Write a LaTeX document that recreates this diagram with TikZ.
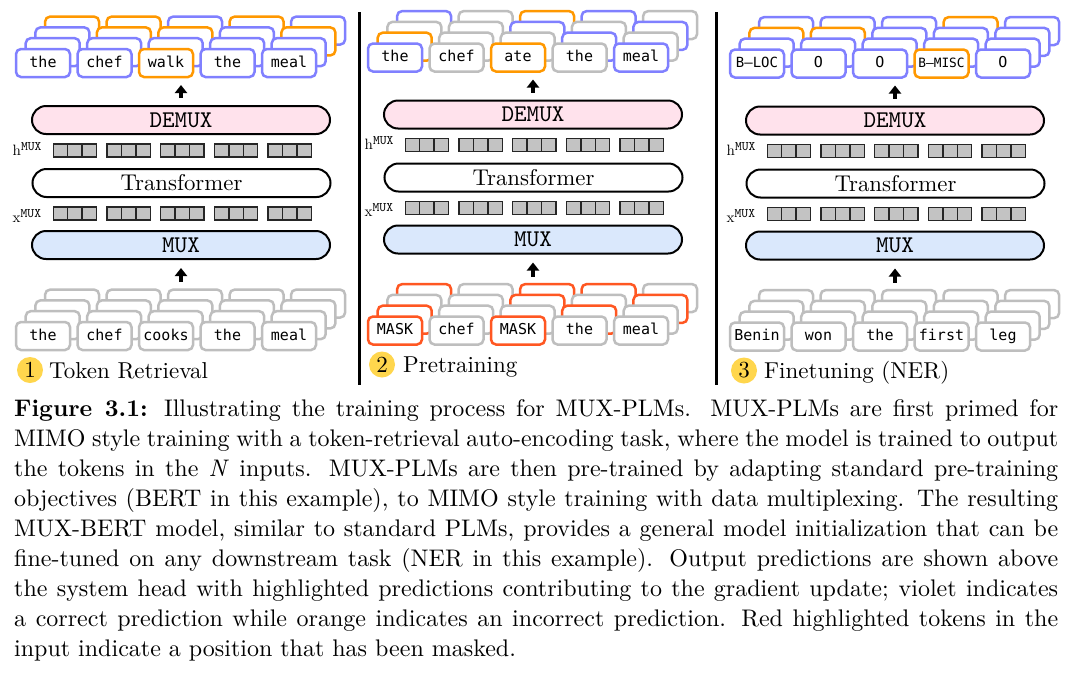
\documentclass[tikz,border=0pt]{standalone}
\usepackage{fontspec}
\setmainfont{lmroman10-regular}[Extension=.otf, BoldFont=lmroman10-bold, ItalicFont=lmroman10-italic, BoldItalicFont=lmroman10-bolditalic]
\setmonofont{lmmono10-regular}[Extension=.otf]
\newfontfamily\tokfont{DejaVu Sans Mono}
\usetikzlibrary{arrows.meta}
\definecolor{tokviolet}{RGB}{128,128,255}
\definecolor{tokorange}{RGB}{255,152,0}
\definecolor{tokgray}{RGB}{190,190,190}
\definecolor{tokred}{RGB}{255,87,34}
\definecolor{demuxpink}{RGB}{255,226,236}
\definecolor{muxblue}{RGB}{218,232,252}
\definecolor{blockgray}{RGB}{195,195,195}
\definecolor{numyellow}{RGB}{255,214,77}
\tikzset{
  sB/.style={draw=tokviolet}, sO/.style={draw=tokorange},
  sG/.style={draw=tokgray}, sR/.style={draw=tokred},
  tb/.style={rounded corners=5pt, line width=2.5pt, fill=white},
  tn/.style={tb, minimum width=54pt, minimum height=28pt, inner sep=0pt,
    text height=11pt, text depth=3pt, font=\tokfont\fontsize{15}{15}\selectfont},
  pill/.style={draw=black, line width=2pt, rounded corners=14pt,
    minimum width=298pt, minimum height=28pt, inner sep=0pt},
  blk/.style={draw=black!85, fill=blockgray, line width=1.5pt},
  vlab/.style={anchor=base west, inner sep=0pt, font=\rmfamily\fontsize{15}{15}\selectfont},
  lab/.style={anchor=base west, inner sep=0pt, font=\rmfamily\fontsize{23}{23}\selectfont},
  numcirc/.style={circle, fill=numyellow, minimum size=26pt, inner sep=0pt,
    font=\rmfamily\fontsize{23}{23}\selectfont},
  uparrow/.style={line width=4pt, -{Triangle[length=8pt,width=12pt]}},
  capline/.style={anchor=base west, inner sep=0pt, font=\rmfamily\fontsize{24}{30}\selectfont},
  divider/.style={line width=2.7pt}
}
\newcommand\supmux{\raisebox{5pt}{\ttfamily\fontsize{13}{13}\selectfont MUX}}
\newcommand\stackrow[4]{%
  \foreach \c [count=\k from 0] in {#4} {%
    \draw[tb,\c] ({#1+61.5*\k+9.7*#3},{#2-10.8*#3}) rectangle ++(54,28);}}
\newcommand\blockrow[1]{%
  \foreach \g in {0,...,4} {\foreach \i in {0,1,2} {%
    \draw[blk] ({53.3+53.7*\g+14.43*\i},#1) rectangle ++(14.43,13);}}}
\newcommand\panelcore[1]{%
  \node[pill, fill=demuxpink, font=\ttfamily\fontsize{24}{24}\selectfont] (#1demux) at (181,120) {DEMUX};
  \node[vlab] (#1hlab) at (12.5,155) {h\supmux};
  \blockrow{144}
  \node[pill, fill=white, font=\rmfamily\fontsize{22.8}{22.8}\selectfont] (#1trans) at (181.5,183) {Transformer};
  \node[vlab] (#1xlab) at (12.5,222) {x\supmux};
  \blockrow{207}
  \node[pill, fill=muxblue, font=\ttfamily\fontsize{24}{24}\selectfont] (#1mux) at (181,245) {MUX};
  \coordinate (#1atb) at (181,98); \coordinate (#1att) at (181,85);
  \draw[uparrow] (#1atb) -- (#1att);
  \coordinate (#1abb) at (181,282); \coordinate (#1abt) at (181,268);
  \draw[uparrow] (#1abb) -- (#1abt);
}
\begin{document}
\begin{tikzpicture}[x=1pt,y=-1pt]
\useasboundingbox (0,0) rectangle (1080,673);
\fill[white] (0,0) rectangle (1080,673);

% ---------- Panel 1 ----------
\begin{scope}[shift={(0,0)}]
  \panelcore{pa}
  \stackrow{16}{49}{3}{sO,sO,sB,sO,sB}
  \stackrow{16}{49}{2}{sB,sO,sO,sB,sO}
  \stackrow{16}{49}{1}{sB,sB,sB,sB,sB}
  \node[tn,sB] (pat0) at (43,63) {the};
  \node[tn,sB] (pat1) at (104.5,63) {chef};
  \node[tn,sO] (pat2) at (166,63) {walk};
  \node[tn,sB] (pat3) at (227.5,63) {the};
  \node[tn,sB] (pat4) at (289,63) {meal};
  \stackrow{16}{322}{3}{sG,sG,sG,sG,sG}
  \stackrow{16}{322}{2}{sG,sG,sG,sG,sG}
  \stackrow{16}{322}{1}{sG,sG,sG,sG,sG}
  \node[tn,sG] (pab0) at (43,336) {the};
  \node[tn,sG] (pab1) at (104.5,336) {chef};
  \node[tn,sG] (pab2) at (166,336) {cooks};
  \node[tn,sG] (pab3) at (227.5,336) {the};
  \node[tn,sG] (pab4) at (289,336) {meal};
  \node[numcirc] (panum) at (30,370) {1};
  \node[lab] (palab) at (49,378) {Token Retrieval};
\end{scope}

% ---------- Panel 2 ----------
\begin{scope}[shift={(352,-5.5)}]
  \panelcore{pb}
  \stackrow{16}{49}{3}{sB,sG,sO,sB,sG}
  \stackrow{16}{49}{2}{sG,sG,sB,sG,sB}
  \stackrow{16}{49}{1}{sO,sG,sG,sB,sG}
  \node[tn,sB] (pbt0) at (43,63) {the};
  \node[tn,sG] (pbt1) at (104.5,63) {chef};
  \node[tn,sO] (pbt2) at (166,63) {ate};
  \node[tn,sG] (pbt3) at (227.5,63) {the};
  \node[tn,sB] (pbt4) at (289,63) {meal};
  \stackrow{16}{322}{3}{sR,sG,sR,sR,sG}
  \stackrow{16}{322}{2}{sG,sG,sR,sG,sR}
  \stackrow{16}{322}{1}{sR,sG,sG,sR,sG}
  \node[tn,sR] (pbb0) at (43,336) {MASK};
  \node[tn,sG] (pbb1) at (104.5,336) {chef};
  \node[tn,sR] (pbb2) at (166,336) {MASK};
  \node[tn,sG] (pbb3) at (227.5,336) {the};
  \node[tn,sG] (pbb4) at (289,336) {meal};
  \node[numcirc] (pbnum) at (30,370) {2};
  \node[lab] (pblab) at (51,378) {Pretraining};
\end{scope}

% ---------- Panel 3 ----------
\begin{scope}[shift={(714,0.5)}]
  \panelcore{pc}
  \stackrow{16}{49}{3}{sB,sB,sB,sO,sB}
  \stackrow{16}{49}{2}{sO,sO,sB,sB,sB}
  \stackrow{16}{49}{1}{sB,sB,sB,sB,sB}
  \node[tn,sB,font=\tokfont\fontsize{14}{14}\selectfont] (pct0) at (43,63) {B–LOC};
  \node[tn,sB] (pct1) at (104.5,63) {O};
  \node[tn,sB] (pct2) at (166,63) {O};
  \node[tn,sO,font=\tokfont\fontsize{12.8}{12.8}\selectfont] (pct3) at (227.5,63) {B–MISC};
  \node[tn,sB] (pct4) at (289,63) {O};
  \stackrow{16}{322}{3}{sG,sG,sG,sG,sG}
  \stackrow{16}{322}{2}{sG,sG,sG,sG,sG}
  \stackrow{16}{322}{1}{sG,sG,sG,sG,sG}
  \node[tn,sG] (pcb0) at (43,336) {Benin};
  \node[tn,sG] (pcb1) at (104.5,336) {won};
  \node[tn,sG] (pcb2) at (166,336) {the};
  \node[tn,sG] (pcb3) at (227.5,336) {first};
  \node[tn,sG] (pcb4) at (289,336) {leg};
  \node[numcirc] (pcnum) at (30,370) {3};
  \node[lab] (pclab) at (50,378) {Finetuning (NER)};
\end{scope}

% ---------- dividers ----------
\draw[divider] (359.5,12) -- (359.5,385);
\draw[divider] (716.5,12) -- (716.5,385);

% ---------- caption ----------
\node[capline] (cap1) at (14,416.5) {\makebox[1044pt][s]{\textbf{Figure 3.1:} Illustrating the training process for MUX-PLMs. MUX-PLMs are first primed for}};
\node[capline] (cap2) at (14,446.5) {\makebox[1044pt][s]{MIMO style training with a token-retrieval auto-encoding task, where the model is trained to output}};
\node[capline] (cap3) at (14,476.5) {\makebox[1044pt][s]{the tokens in the \textit{N} inputs. MUX-PLMs are then pre-trained by adapting standard pre-training}};
\node[capline] (cap4) at (14,506.5) {\makebox[1044pt][s]{objectives (BERT in this example), to MIMO style training with data multiplexing. The resulting}};
\node[capline] (cap5) at (14,536.5) {\makebox[1044pt][s]{MUX-BERT model, similar to standard PLMs, provides a general model initialization that can be}};
\node[capline] (cap6) at (14,566.5) {\makebox[1044pt][s]{fine-tuned on any downstream task (NER in this example). Output predictions are shown above}};
\node[capline] (cap7) at (14,596.5) {\makebox[1044pt][s]{the system head with highlighted predictions contributing to the gradient update; violet indicates}};
\node[capline] (cap8) at (14,626.5) {\makebox[1044pt][s]{a correct prediction while orange indicates an incorrect prediction. Red highlighted tokens in the}};
\node[capline] (cap9) at (14,656.5) {input indicate a position that has been masked.};
\end{tikzpicture}
\end{document}
